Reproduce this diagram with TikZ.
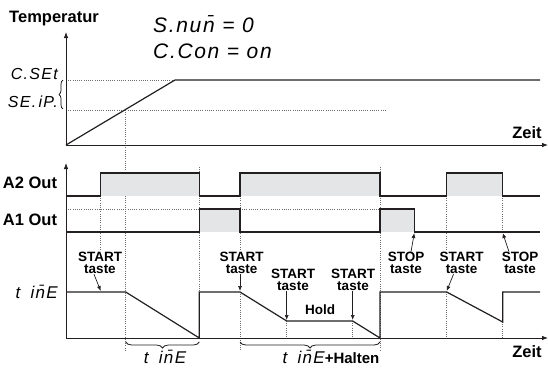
\documentclass[tikz,border=0pt]{standalone}
\usepackage{fontspec}
\setmainfont{Liberation Sans}
\usetikzlibrary{positioning, arrows.meta, decorations.pathreplacing}
\definecolor{plotline}{RGB}{35,31,32}
\definecolor{pulsefill}{RGB}{228,229,230}
\definecolor{guide}{RGB}{110,110,110}
\tikzset{
    axisline/.style={-{Latex[length=6pt,width=4.5pt]}, line width=0.8pt, color=plotline},
    sigline/.style={line width=1.2pt, color=plotline},
    guideline/.style={dash pattern=on 0.8pt off 1.4pt, line width=0.7pt, color=guide},
    pulse/.style={fill=pulsefill, draw=none},
    axlabel/.style={font=\fontsize{16.5}{16.5}\selectfont\bfseries, inner sep=0pt},
    keylabel/.style={align=center, font=\fontsize{13.5}{12.5}\selectfont\bfseries, inner sep=0pt},
    seglabel/.style={font=\fontsize{#1}{#1}\selectfont\itshape\addfontfeature{LetterSpace=8}, inner sep=0pt},
    seglabel/.default=17,
    keyarr/.style={-{Latex[length=5pt,width=4pt]}, line width=0.7pt, color=plotline},
    spanbrace/.style={decorate, decoration={brace, amplitude=6pt, mirror}, line width=0.8pt, color=plotline}
}

\begin{document}
\begin{tikzpicture}[x=1pt, y=-1pt]
    \useasboundingbox (0,0) rectangle (548,367);

    % upper plot: temperature
    \draw[guideline] (66,80) -- (175,80);
    \draw[guideline] (66,110) -- (387,110);
    \draw[guideline] (125.7,110) -- (125.7,350);
    \draw[axisline] (66,145) -- (66,32);
    \draw[axisline] (66,145) -- (548,145);
    \draw[sigline] (66,145) -- (175,80) -- (540,80);
    \draw[decorate, decoration={brace, amplitude=4pt}, line width=0.7pt] (63,109) -- (63,80);

    \node[axlabel] (temp) at (54,19) {Temperatur};
    \node[axlabel] (zeit1) at (527,133) {Zeit};
    \node[seglabel=21, anchor=west] (snum) at (153,24) {S.nu\=n = 0};
    \node[seglabel=21, anchor=west] (ccon) at (153,51) {C.Con = on};
    \node[seglabel=16, anchor=east] (cset) at (58,74) {C.SEt};
    \node[seglabel=16, anchor=east] (seip) at (58,102) {SE.\hspace{0.15em}iP.};

    % lower plot: outputs and timer
    \fill[pulse] (100.7,173) rectangle (199.3,196);
    \fill[pulse] (240,173) rectangle (380,196);
    \fill[pulse] (446.7,173) rectangle (502.7,196);
    \fill[pulse] (199.3,209) rectangle (240,232);
    \fill[pulse] (380,209) rectangle (414.3,232);

    \draw[guideline] (66,209) -- (380,209);
    \draw[guideline] (100.7,196) -- (100.7,250);
    \draw[guideline] (199.3,167) -- (199.3,338);
    \draw[guideline] (240,196) -- (240,250);
    \draw[guideline] (240,292) -- (240,350);
    \draw[guideline] (286.7,321) -- (286.7,338);
    \draw[guideline] (352.7,321) -- (352.7,338);
    \draw[guideline] (380,167) -- (380,350);
    \draw[guideline] (446.7,196) -- (446.7,250);
    \draw[guideline] (446.7,292) -- (446.7,338);
    \draw[guideline] (502.7,196) -- (502.7,233);
    \draw[guideline] (502.7,322) -- (502.7,338);

    \draw[sigline] (66,196) -- (100.7,196) -- (100.7,173) -- (199.3,173) -- (199.3,196) -- (240,196) -- (240,173)
        -- (380,173) -- (380,196) -- (446.7,196) -- (446.7,173) -- (502.7,173) -- (502.7,196) -- (540,196);
    \draw[sigline] (66,232) -- (199.3,232) -- (199.3,209) -- (240,209) -- (240,232) -- (380,232) -- (380,209)
        -- (414.3,209) -- (414.3,232) -- (540,232);
    \draw[sigline] (66,292) -- (125.7,292) -- (199.3,338) -- (199.3,292) -- (240,292) -- (286.7,321) -- (352.7,321)
        -- (380,338) -- (380,292) -- (446.7,292) -- (502.7,322) -- (502.7,292) -- (540,292);

    \draw[axisline] (66,338) -- (66,163);
    \draw[axisline] (66,338) -- (548,338);

    \node[axlabel] (a2lab) at (30,183) {A2 Out};
    \node[axlabel] (a1lab) at (30,220) {A1 Out};
    \node[seglabel, anchor=east] (tlab) at (58,292) {t\hspace{0.6em}i\=nE};
    \node[axlabel] (zeit2) at (527,352) {Zeit};

    % keys
    \coordinate (k1) at (100.7,291);
    \coordinate (k2) at (240,291);
    \coordinate (k3) at (286.7,320);
    \coordinate (k4) at (352.7,320);
    \coordinate (k5) at (414.3,233);
    \coordinate (k6) at (446.7,291);
    \coordinate (k7) at (502.7,233);
    \node[keylabel] (st1) at (100,263) {START\\taste};
    \node[keylabel] (st2) at (241.7,263) {START\\taste};
    \node[keylabel] (st3) at (293,280) {START\\taste};
    \node[keylabel] (st4) at (353,280) {START\\taste};
    \node[keylabel] (sp1) at (406,263) {STOP\\taste};
    \node[keylabel] (st5) at (461.5,263) {START\\taste};
    \node[keylabel] (sp2) at (520,263) {STOP\\taste};
    \node[keylabel] (hold) at (320,310) {Hold};
    \draw[keyarr] ([xshift=-6pt]st1.south) -- (k1);
    \draw[keyarr] (st2.south -| k2) -- (k2);
    \draw[keyarr] (st3.south -| k3) -- (k3);
    \draw[keyarr] (st4.south -| k4) -- (k4);
    \draw[keyarr] ([xshift=5pt]sp1.north) -- (k5);
    \draw[keyarr] ([xshift=-8pt]st5.south) -- (k6);
    \draw[keyarr] ([xshift=-11pt]sp2.north) -- (k7);

    % time spans
    \draw[spanbrace] (125.7,342) -- (199.3,342);
    \draw[spanbrace] (240,342) -- (380,342);
    \node[seglabel] (tbr1) at (165,357) {t\hspace{0.6em}i\=nE};
    \node[seglabel] (tbr2) at (331,357) {t\hspace{0.6em}i\=nE{\upshape\bfseries\fontsize{15}{15}\selectfont\addfontfeature{LetterSpace=0}+Halten}};
\end{tikzpicture}
\end{document}
